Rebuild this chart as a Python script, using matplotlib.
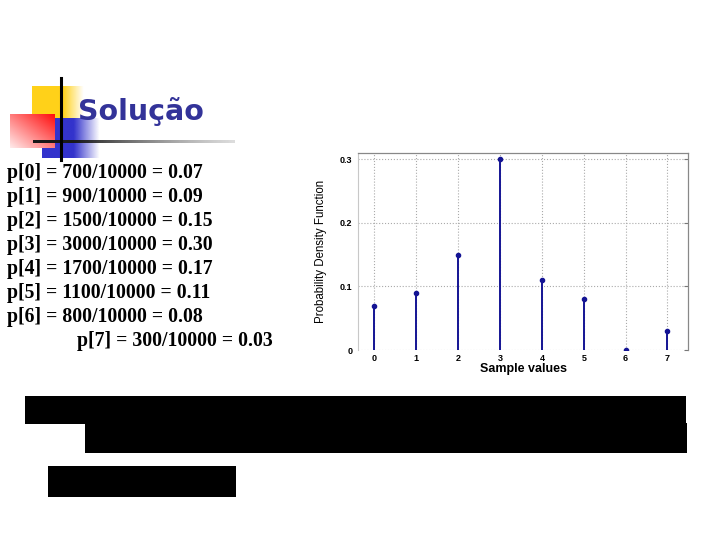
import numpy as np
import matplotlib.pyplot as plt
from matplotlib.patches import Rectangle

# data
samples = [0, 1, 2, 3, 4, 5, 6, 7]
pdf = [0.07, 0.09, 0.15, 0.30, 0.11, 0.08, 0.0, 0.03]
y_ticks = [0, 0.1, 0.2, 0.3]
y_tick_labels = ['0', '0.1', '0.2', '0.3']
text_lines = [
    'p[0] = 700/10000 = 0.07',
    'p[1] = 900/10000 = 0.09',
    'p[2] = 1500/10000 = 0.15',
    'p[3] = 3000/10000 = 0.30',
    'p[4] = 1700/10000 = 0.17',
    'p[5] = 1100/10000 = 0.11',
    'p[6] = 800/10000 = 0.08',
    'p[7] = 300/10000 = 0.03',
]
title = 'Solução'

W, H = 720, 540
fig = plt.figure(figsize=(7.2, 5.4), dpi=100)

# background layer in pixel coords
bg = fig.add_axes([0, 0, 1, 1])
bg.axis('off')


def grad_box(ax, x0, x1, y0, y1, c_a, c_b, z, diag=False, start=0.0):
    # colour goes from c_a (left) to c_b (right), optionally along the diagonal
    n = 64
    tx = np.linspace(0, 1, n)
    ty = np.linspace(0, 1, n)
    if diag:
        t = np.clip((tx[None, :] + (1 - ty[:, None])) / 2, 0, 1)
    else:
        t = np.tile(tx, (n, 1))
    t = np.clip((t - start) / (1 - start), 0, 1)
    c0 = np.array(c_a)
    c1 = np.array(c_b)
    img = c0 * (1 - t[..., None]) + c1 * t[..., None]
    ax.imshow(img, extent=(x0, x1, y1, y0), aspect='auto', zorder=z,
              interpolation='bilinear')


# decoration squares
grad_box(bg, 32, 84, 86, 118, (1, 0.82, 0.1, 1), (1, 0.82, 0.1, 0), 1, start=0.6)
grad_box(bg, 42, 100, 118, 158, (0.2, 0.2, 0.8, 1), (0.2, 0.2, 0.8, 0), 2, start=0.55)
grad_box(bg, 10, 55, 114, 148, (1, 0.92, 0.92, 1), (1, 0.05, 0.05, 1), 3, diag=True)
# cross lines
bg.plot([61, 61], [78, 160], color='black', lw=2.2, zorder=5)
grad_box(bg, 33, 235, 140.5, 143.5, (0.1, 0.1, 0.1, 1), (0.55, 0.55, 0.55, 0.3), 4, start=0.2)
bg.set_xlim(0, W)
bg.set_ylim(H, 0)

bg.text(78, 112, title, color='#333399', fontsize=20.5, fontweight='bold',
        family='DejaVu Sans', va='center', ha='left', zorder=6)

for i, line in enumerate(text_lines):
    x = 77 if i == len(text_lines) - 1 else 7
    bg.text(x, 173 + 24 * i, line, fontsize=14.2, family='Liberation Serif',
            fontweight='bold', va='center', ha='left', color='black')

# redaction boxes
bg.add_patch(Rectangle((25, 396), 661, 28, color='black', lw=0, zorder=7))
bg.add_patch(Rectangle((85, 423), 602, 30, color='black', lw=0, zorder=7))
bg.add_patch(Rectangle((48, 466), 188, 31, color='black', lw=0, zorder=7))

# stem chart
left, right, top, bottom = 358, 688, 153, 350
ax = fig.add_axes([left / W, 1 - bottom / H, (right - left) / W, (bottom - top) / H])
ax.patch.set_alpha(0)
mk, st, bl = ax.stem(samples, pdf, basefmt=' ')
plt.setp(st, color='#141494', linewidth=1.4)
plt.setp(mk, color='#141494', markersize=3)
ax.set_xlim(-0.39, 7.49)
ax.set_ylim(0, 0.31)
ax.set_xticks(samples)
ax.set_yticks(y_ticks)
ax.set_yticklabels(y_tick_labels)
ax.grid(True, linestyle=':', color='#aaaaaa', linewidth=0.8)
ax.spines['bottom'].set_visible(False)
for s in ['top', 'right']:
    ax.spines[s].set_color('#888888')
    ax.spines[s].set_linewidth(0.9)
ax.spines['left'].set_color('#c8c8c8')
ax.spines['left'].set_linewidth(0.8)
ax.tick_params(axis='both', direction='in', length=3, color='#777777',
               labelsize=6.5, top=False, right=True, left=False, bottom=False)
ax.tick_params(axis='y', pad=4)
ax.tick_params(axis='x', pad=3)
for lab in ax.get_xticklabels() + ax.get_yticklabels():
    lab.set_fontweight('bold')
    lab.set_family('Liberation Sans')
ax.set_xlabel('Sample values', fontsize=9, fontweight='bold',
              family='Liberation Sans', labelpad=0)
ax.set_ylabel('Probability Density Function', fontsize=8.3,
              family='Liberation Sans', labelpad=9)

fig.savefig('out.png', dpi=100)
